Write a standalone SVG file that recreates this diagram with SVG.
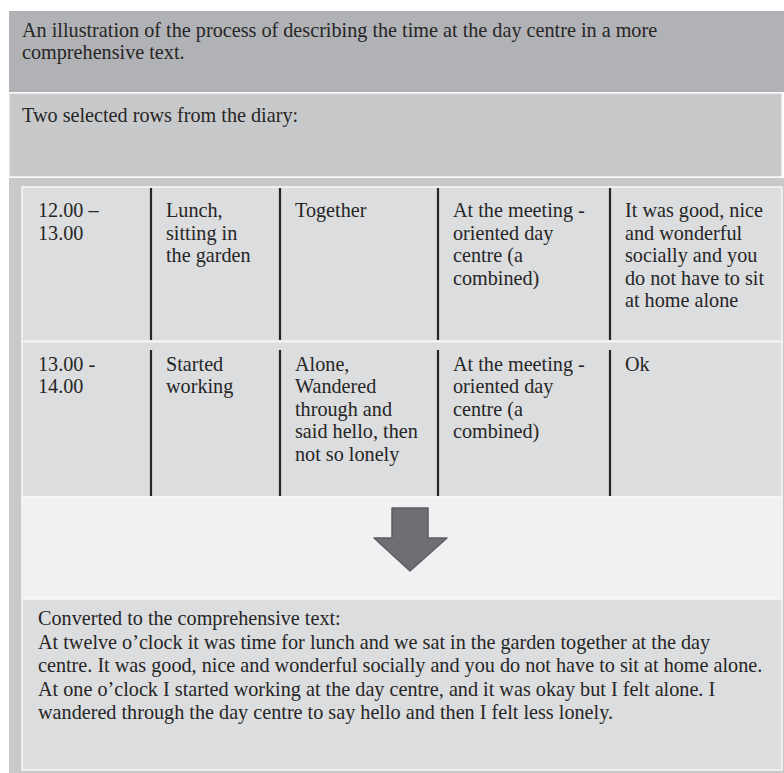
<svg xmlns="http://www.w3.org/2000/svg" width="784" height="773" viewBox="0 0 784 773" font-family="'Liberation Serif', 'Times New Roman', serif">
<style>
text{font-family:'Liberation Serif','Times New Roman',serif;font-size:20.2px;fill:#262626}
.vl{stroke:#262626;stroke-width:2.2}
.box{stroke:#f7f7f7;stroke-width:1.5}
</style>
<rect x="0" y="0" width="784" height="773" fill="#ffffff"/>
<rect x="9" y="178" width="775" height="595" fill="#c8c9cb"/>
<g id="header">
<rect x="9" y="11" width="775" height="81" fill="#b1b2b5"/>
<text x="22" y="37">An illustration of the process of describing the time at the day centre in a more</text>
<text x="22" y="59">comprehensive text.</text>
</g>
<g id="subheader">
<rect x="9" y="93" width="773" height="84" fill="#c8c9cb" class="box"/>
<text x="22" y="122">Two selected rows from the diary:</text>
</g>
<g id="table">
<rect x="22" y="187" width="760" height="310" fill="#dcdddf" class="box"/>
<line x1="22" y1="341.5" x2="782" y2="341.5" stroke="#f7f7f7" stroke-width="2"/>
<line class="vl" x1="151" y1="188" x2="151" y2="340"/>
<line class="vl" x1="280" y1="188" x2="280" y2="340"/>
<line class="vl" x1="438" y1="188" x2="438" y2="340"/>
<line class="vl" x1="610" y1="188" x2="610" y2="340"/>
<line class="vl" x1="151" y1="350" x2="151" y2="496"/>
<line class="vl" x1="280" y1="350" x2="280" y2="496"/>
<line class="vl" x1="438" y1="350" x2="438" y2="496"/>
<line class="vl" x1="610" y1="350" x2="610" y2="496"/>
<g id="row1">
<text x="38" y="217">12.00 –</text>
<text x="38" y="239.5">13.00</text>
<text x="166" y="217">Lunch,</text>
<text x="166" y="239.5">sitting in</text>
<text x="166" y="262">the garden</text>
<text x="295" y="217">Together</text>
<text x="453" y="217">At the meeting -</text>
<text x="453" y="239.5">oriented day</text>
<text x="453" y="262">centre (a</text>
<text x="453" y="284.5">combined)</text>
<text x="625" y="217">It was good, nice</text>
<text x="625" y="239.5">and wonderful</text>
<text x="625" y="262">socially and you</text>
<text x="625" y="284.5">do not have to sit</text>
<text x="625" y="307">at home alone</text>
</g>
<g id="row2">
<text x="38" y="370.5">13.00 -</text>
<text x="38" y="393">14.00</text>
<text x="166" y="370.5">Started</text>
<text x="166" y="393">working</text>
<text x="295" y="370.5">Alone,</text>
<text x="295" y="393">Wandered</text>
<text x="295" y="415.5">through and</text>
<text x="295" y="438">said hello, then</text>
<text x="295" y="460.5">not so lonely</text>
<text x="453" y="370.5">At the meeting -</text>
<text x="453" y="393">oriented day</text>
<text x="453" y="415.5">centre (a</text>
<text x="453" y="438">combined)</text>
<text x="625" y="370.5">Ok</text>
</g>
</g>
<g id="arrow-panel">
<rect x="22" y="497" width="760" height="101" fill="#f0f1f2" class="box"/>
<polygon points="392,508 428,508 428,538 447,538 410,571 374,538 392,538" fill="#6e6f72" stroke="#5e5f62" stroke-width="1.5" stroke-linejoin="round"/>
</g>
<g id="result">
<rect x="22" y="599" width="760" height="171" fill="#dcdddf" class="box"/>
<text x="38" y="625">Converted to the comprehensive text:</text>
<text x="38" y="648.5">At twelve o’clock it was time for lunch and we sat in the garden together at the day</text>
<text x="38" y="672">centre. It was good, nice and wonderful socially and you do not have to sit at home alone.</text>
<text x="38" y="695.5">At one o’clock I started working at the day centre, and it was okay but I felt alone. I</text>
<text x="38" y="719">wandered through the day centre to say hello and then I felt less lonely.</text>
</g>
</svg>
